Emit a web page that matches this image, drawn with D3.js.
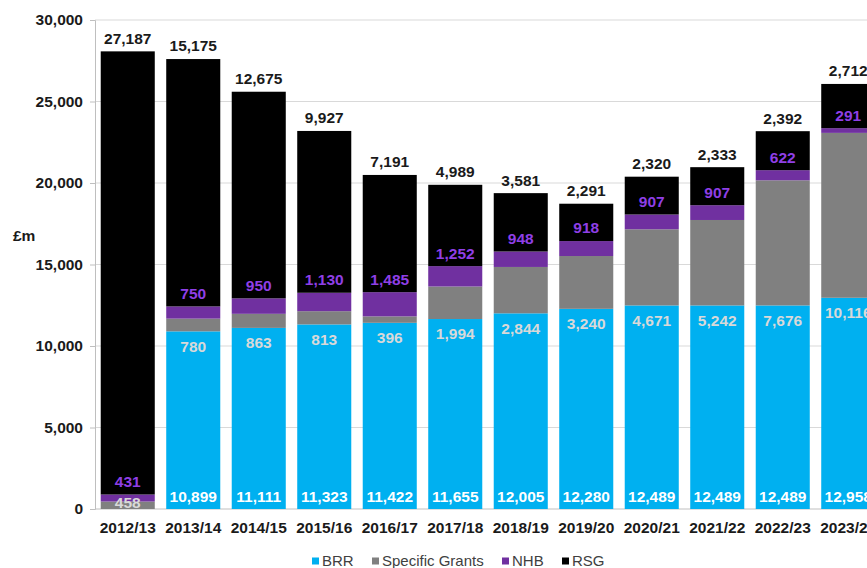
<!DOCTYPE html>
<html>
<head>
<meta charset="utf-8">
<script src="https://cdn.jsdelivr.net/npm/d3@7"></script>
<style>
  html, body { margin: 0; padding: 0; background: #ffffff; overflow: hidden; }
  svg { display: block; font-family: "Liberation Sans", Arial, sans-serif; }
</style>
</head>
<body>
<svg id="chart" width="867" height="568"></svg>
<script>
const categories = ["2012/13","2013/14","2014/15","2015/16","2016/17","2017/18","2018/19","2019/20","2020/21","2021/22","2022/23","2023/24"];
const BRR = [0, 10899, 11111, 11323, 11422, 11655, 12005, 12280, 12489, 12489, 12489, 12958];
const SpecificGrants = [458, 780, 863, 813, 396, 1994, 2844, 3240, 4671, 5242, 7676, 10116];
const NHB = [431, 750, 950, 1130, 1485, 1252, 948, 918, 907, 907, 622, 291];
const RSG = [27187, 15175, 12675, 9927, 7191, 4989, 3581, 2291, 2320, 2333, 2392, 2712];
const yTicks = [0, 5000, 10000, 15000, 20000, 25000, 30000];
const seriesNames = ["BRR", "Specific Grants", "NHB", "RSG"];
const seriesColors = ["#00B0F0", "#808080", "#7030A0", "#000000"];

const svg = d3.select("#chart");
const fmt = d3.format(",");
const FS = 15.5;

const x = d3.scaleBand().domain(categories).range([95, 881]).paddingInner(0.175).paddingOuter(0.0875);
const y = d3.scaleLinear().domain([0, 30000]).range([509, 20]);

// gridlines
svg.append("g").selectAll("line").data(yTicks.filter(d => d > 0)).join("line")
  .attr("x1", 95).attr("x2", 867)
  .attr("y1", d => y(d)).attr("y2", d => y(d))
  .attr("stroke", "#d9d9d9").attr("stroke-width", 1);

// y axis
const yAxis = svg.append("g").attr("transform", "translate(95,0)")
  .call(d3.axisLeft(y).tickValues(yTicks).tickFormat(fmt).tickSize(5).tickPadding(7));
yAxis.select(".domain").attr("stroke", "#bfbfbf");
yAxis.selectAll(".tick line").attr("stroke", "#bfbfbf");
yAxis.selectAll(".tick text").attr("font-size", FS).attr("font-weight", "bold").attr("fill", "#1a1a1a")
  .attr("font-family", "Liberation Sans, Arial, sans-serif");

// x axis line
svg.append("line").attr("x1", 95).attr("x2", 867).attr("y1", y(0)).attr("y2", y(0))
  .attr("stroke", "#bfbfbf");

// stacked data
const table = categories.map((c, i) => ({cat: c, "BRR": BRR[i], "Specific Grants": SpecificGrants[i], "NHB": NHB[i], "RSG": RSG[i]}));
const stack = d3.stack().keys(seriesNames)(table);

svg.append("g").selectAll("g").data(stack).join("g")
  .attr("fill", (d, i) => seriesColors[i])
  .selectAll("rect").data(d => d).join("rect")
  .attr("x", d => x(d.data.cat))
  .attr("width", x.bandwidth())
  .attr("y", d => y(d[1]))
  .attr("height", d => y(d[0]) - y(d[1]));

const cx = c => x(c) + x.bandwidth() / 2;
const labels = svg.append("g").attr("text-anchor", "middle").attr("font-weight", "bold").attr("font-size", FS);

// BRR labels at base
labels.selectAll(".brr").data(stack[0].filter(d => d.data["BRR"] > 0)).join("text")
  .attr("x", d => cx(d.data.cat)).attr("y", y(0) - 12).attr("dy", "0.35em")
  .attr("fill", "#ffffff").text(d => fmt(d.data["BRR"]));

// Specific Grants labels just below the segment base
labels.selectAll(".sg").data(stack[1]).join("text")
  .attr("x", d => cx(d.data.cat)).attr("y", d => Math.min(y(d[0]) + 15, y(0) - 6)).attr("dy", "0.35em")
  .attr("fill", "#d9d9d9").text(d => fmt(d.data["Specific Grants"]));

// NHB labels above the segment
labels.selectAll(".nhb").data(stack[2]).join("text")
  .attr("x", d => cx(d.data.cat)).attr("y", d => y(d[1]) - 13).attr("dy", "0.35em")
  .attr("fill", "#8f3fe6").text(d => fmt(d.data["NHB"]));

// RSG labels above bar
labels.selectAll(".rsg").data(stack[3]).join("text")
  .attr("x", d => cx(d.data.cat)).attr("y", d => y(d[1]) - 13).attr("dy", "0.35em")
  .attr("fill", "#1a1a1a").text(d => fmt(d.data["RSG"]));

// category labels
svg.append("g").selectAll("text").data(categories).join("text")
  .attr("x", d => cx(d)).attr("y", 528).attr("dy", "0.35em")
  .attr("text-anchor", "middle").attr("font-weight", "bold").attr("font-size", FS)
  .attr("fill", "#1a1a1a").text(d => d);

// unit label
svg.append("text").attr("x", 13).attr("y", 236).attr("dy", "0.35em")
  .attr("font-weight", "bold").attr("font-size", FS).attr("fill", "#1a1a1a").text("£m");

// legend
const legendX = [312, 372, 502, 562];
const lg = svg.append("g").selectAll("g").data(seriesNames).join("g")
  .attr("transform", (d, i) => `translate(${legendX[i]},561)`);
lg.append("rect").attr("x", 0).attr("y", -3.5).attr("width", 7).attr("height", 7)
  .attr("fill", (d, i) => seriesColors[i]);
lg.append("text").attr("x", 10).attr("dy", "0.35em").attr("font-size", 15).attr("fill", "#404040").text(d => d);
</script>
</body>
</html>
